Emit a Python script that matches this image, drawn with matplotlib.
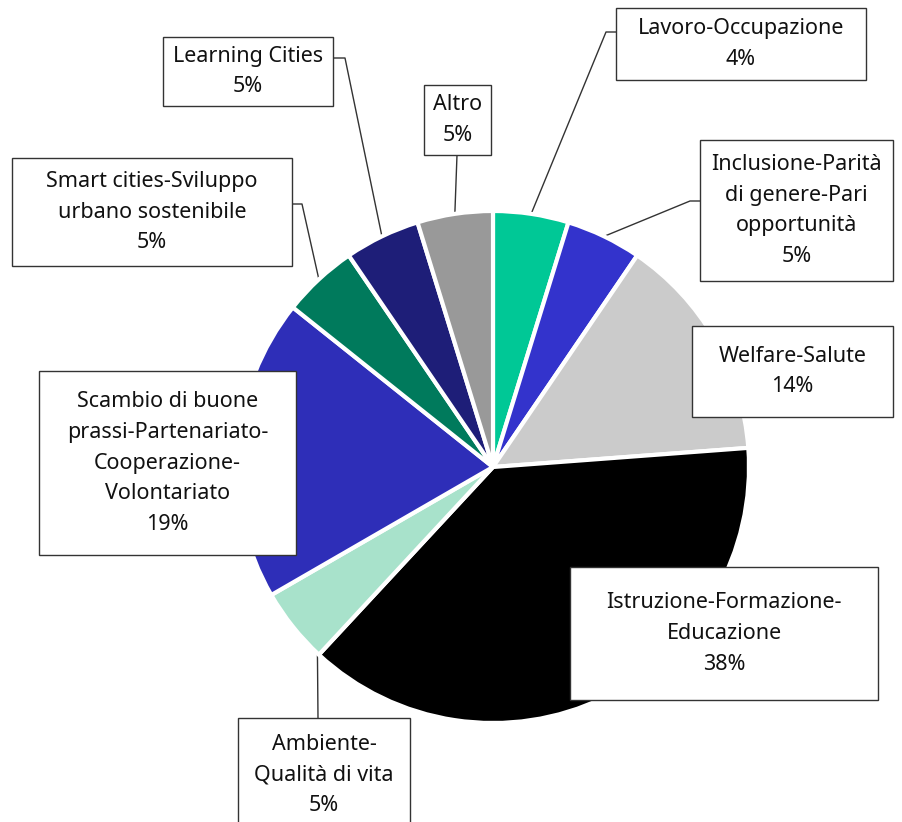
import numpy as np
import matplotlib
matplotlib.use("Agg")
import matplotlib.pyplot as plt
from matplotlib.patches import Rectangle

# dati (conteggi per ambito, le percentuali come scritte nel grafico)
categorie = ["Lavoro-Occupazione", "Inclusione-Parità\ndi genere-Pari\nopportunità",
             "Welfare-Salute", "Istruzione-Formazione-\nEducazione",
             "Ambiente-\nQualità di vita",
             "Scambio di buone\nprassi-Partenariato-\nCooperazione-\nVolontariato",
             "Smart cities-Sviluppo\nurbano sostenibile", "Learning Cities", "Altro"]
conteggi = [1, 1, 3, 8, 1, 4, 1, 1, 1]
percentuali = ["4%", "5%", "14%", "38%", "5%", "19%", "5%", "5%", "5%"]
colori = ["#00c896", "#3333cc", "#cbcbcb", "#000000", "#a8e2cb",
          "#2e2eb8", "#007a5c", "#1e1e78", "#999999"]

W, H = 902, 822
cx, cy, R = 493, H - 467, 256

# riquadri delle etichette (x0, y0, x1, y1 in pixel, y verso il basso)
box = [(616, 8, 866, 80), (700, 140, 893, 281), (692, 326, 893, 417),
       (570, 567, 878, 700), (238, 718, 410, 840), (39, 371, 296, 555),
       (12, 158, 292, 266), (163, 37, 333, 106), (424, 85, 491, 155)]
centro_testo = [None, None, None, None, (324, 775), None, None, None, None]
# linee guida: (angolo o None, gomito, fine)
guida = [(None, (606, 32), (616, 32)), (None, (690, 201), (700, 201)), None, None,
         (226.7, (318, 718), (318, 718)), None,
         (None, (302, 204), (292, 204)), (None, (345, 58), (333, 58)),
         (None, (457, 155), (457, 155))]

plt.rcParams['font.family'] = ['Noto Sans', 'DejaVu Sans']
fig = plt.figure(figsize=(W / 100, H / 100), dpi=100)
ax = fig.add_axes([0, 0, 1, 1])

wedges, _ = ax.pie(conteggi, colors=colori, startangle=90, counterclock=False,
                   center=(cx, cy), radius=R,
                   wedgeprops=dict(edgecolor="white", linewidth=3))
for w in wedges:
    w.set_zorder(2)

for i, g in enumerate(guida):
    if g is None:
        continue
    ang, gomito, fine = g
    if ang is None:
        ang = (wedges[i].theta1 + wedges[i].theta2) / 2
    a = np.radians(ang)
    x0, y0 = cx + R * np.cos(a), cy + R * np.sin(a)
    ax.plot([x0, gomito[0], fine[0]], [y0, H - gomito[1], H - fine[1]],
            color="#333333", lw=1, zorder=1)

for i, (x0, y0, x1, y1) in enumerate(box):
    ax.add_patch(Rectangle((x0, H - y1), x1 - x0, y1 - y0, facecolor="white",
                           edgecolor="#333333", lw=1, zorder=3))
    if centro_testo[i] is None:
        tx, ty = (x0 + x1) / 2, H - (y0 + y1) / 2
    else:
        tx, ty = centro_testo[i][0], H - centro_testo[i][1]
    ax.text(tx, ty, categorie[i] + "\n" + percentuali[i], ha="center", va="center",
            fontsize=15.5, linespacing=1.62, color="#111111", zorder=4)

ax.set_xlim(0, W)
ax.set_ylim(0, H)
ax.set_aspect("equal")
ax.axis("off")
fig.savefig("out.png", dpi=100)
